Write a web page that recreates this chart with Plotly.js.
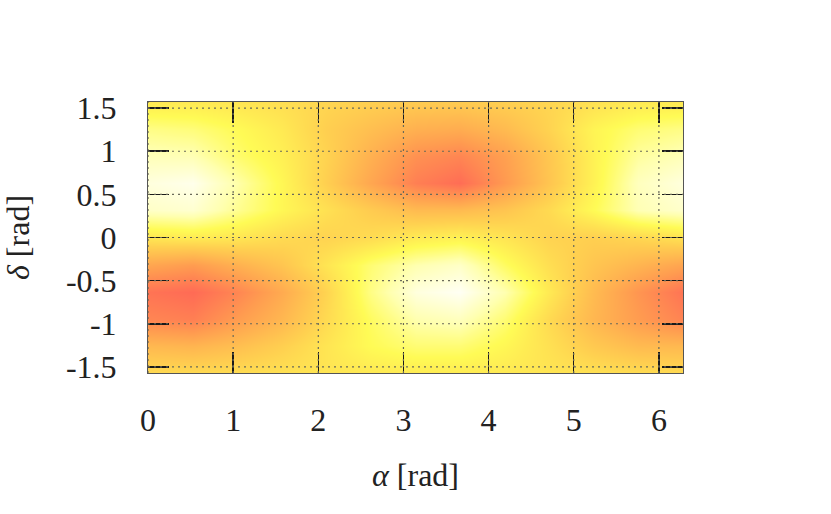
<!DOCTYPE html>
<html>
<head>
<meta charset="utf-8">
<script src="https://cdn.plot.ly/plotly-3.0.1.min.js"></script>
<style>html,body{margin:0;padding:0;background:#fff;}#chart{width:831px;height:514px;}</style>
</head>
<body>
<div id="chart"></div>
<script>
// alpha grid (rad), 0..2pi step pi/6
const alpha = [0, 0.5236, 1.0472, 1.5708, 2.0944, 2.618, 3.1416, 3.6652, 4.1888, 4.7124, 5.236, 5.7596, 6.2832];
// delta grid (rad), -pi/2..pi/2 step pi/10
const delta = [-1.5708, -1.2566, -0.9425, -0.6283, -0.3142, 0, 0.3142, 0.6283, 0.9425, 1.2566, 1.5708];
// intensity (0 = red, 1 = white), one row per delta
const rowM157 = [0.55,0.55,0.56,0.58,0.60,0.62,0.63,0.63,0.62,0.60,0.58,0.56,0.55];
const rowM126 = [0.39,0.37,0.42,0.50,0.60,0.70,0.75,0.75,0.68,0.58,0.47,0.40,0.39];
const rowM094 = [0.15,0.12,0.25,0.38,0.55,0.72,0.85,0.88,0.75,0.55,0.38,0.25,0.14];
const rowM063 = [0.07,0.03,0.15,0.32,0.52,0.78,0.95,1.00,0.85,0.62,0.40,0.22,0.07];
const rowM031 = [0.30,0.25,0.35,0.45,0.60,0.75,0.85,0.90,0.72,0.57,0.45,0.37,0.29];
const rowP000 = [0.60,0.62,0.60,0.55,0.52,0.56,0.63,0.66,0.60,0.52,0.50,0.53,0.58];
const rowP031 = [0.90,0.92,0.80,0.68,0.58,0.48,0.40,0.40,0.45,0.55,0.70,0.86,0.91];
const rowP063 = [0.95,0.98,0.84,0.68,0.50,0.30,0.12,0.04,0.24,0.45,0.66,0.88,0.95];
const rowP094 = [0.87,0.86,0.74,0.65,0.52,0.35,0.20,0.15,0.27,0.46,0.66,0.82,0.87];
const rowP126 = [0.78,0.76,0.70,0.62,0.50,0.42,0.35,0.33,0.40,0.52,0.67,0.75,0.78];
const rowP157 = [0.62,0.62,0.60,0.57,0.53,0.50,0.48,0.48,0.50,0.53,0.58,0.62,0.62];

const xTicks = [0, 1, 2, 3, 4, 5, 6];
const xTickText = ['0', '1', '2', '3', '4', '5', '6'];
const yTicks = [-1.5, -1, -0.5, 0, 0.5, 1, 1.5];
const yTickText = ['-1.5', '-1', '-0.5', '0', '0.5', '1', '1.5'];

const z = [rowM157, rowM126, rowM094, rowM063, rowM031, rowP000, rowP031, rowP063, rowP094, rowP126, rowP157];
const FONT = 'Liberation Serif, DejaVu Serif, serif';

const trace = {
  type: 'heatmap', x: alpha, y: delta, z: z,
  zmin: 0, zmax: 1, zsmooth: 'best', showscale: false,
  colorscale: [[0, '#ff6456'], [0.25, '#ff9c50'], [0.5, '#ffcf50'], [0.7, '#fffb55'], [0.85, '#ffffb0'], [1, '#fffff4']]
};

const gridStyle = {color: '#6a6a5a', width: 1.2, dash: '2px,4px'};
const shapes = [];
xTicks.forEach(v => shapes.push({type: 'line', xref: 'x', yref: 'paper', x0: v, x1: v, y0: 0, y1: 1, line: gridStyle, layer: 'above'}));
yTicks.forEach(v => shapes.push({type: 'line', xref: 'paper', yref: 'y', x0: 0, x1: 1, y0: v, y1: v, line: gridStyle, layer: 'above'}));

const axisCommon = {
  showgrid: false, zeroline: false, showline: true, linecolor: '#555', linewidth: 1,
  mirror: 'ticks', ticks: 'inside', ticklen: 21, tickwidth: 1.5, tickcolor: '#1a1a1a',
  layer: 'above traces', tickfont: {family: FONT, size: 32, color: '#222'}
};

const layout = {
  width: 831, height: 514,
  margin: {l: 148, r: 148, t: 102, b: 141},
  paper_bgcolor: '#fff', plot_bgcolor: '#fff',
  showlegend: false,
  xaxis: Object.assign({}, axisCommon, {
    range: [0, 2 * Math.PI], tickmode: 'array', tickvals: xTicks, ticktext: xTickText,
    ticklabelstandoff: 19,
    title: {text: '<i>α</i> [rad]', font: {family: FONT, size: 32, color: '#222'}, standoff: 26}
  }),
  yaxis: Object.assign({}, axisCommon, {
    range: [-Math.PI / 2, Math.PI / 2], tickmode: 'array', tickvals: yTicks, ticktext: yTickText,
    ticklabelstandoff: 24,
    title: {text: '<i>δ</i> [rad]', font: {family: FONT, size: 32, color: '#222'}, standoff: 30}
  }),
  shapes: shapes
};

Plotly.newPlot('chart', [trace], layout, {displayModeBar: false, staticPlot: true});
</script>
</body>
</html>
